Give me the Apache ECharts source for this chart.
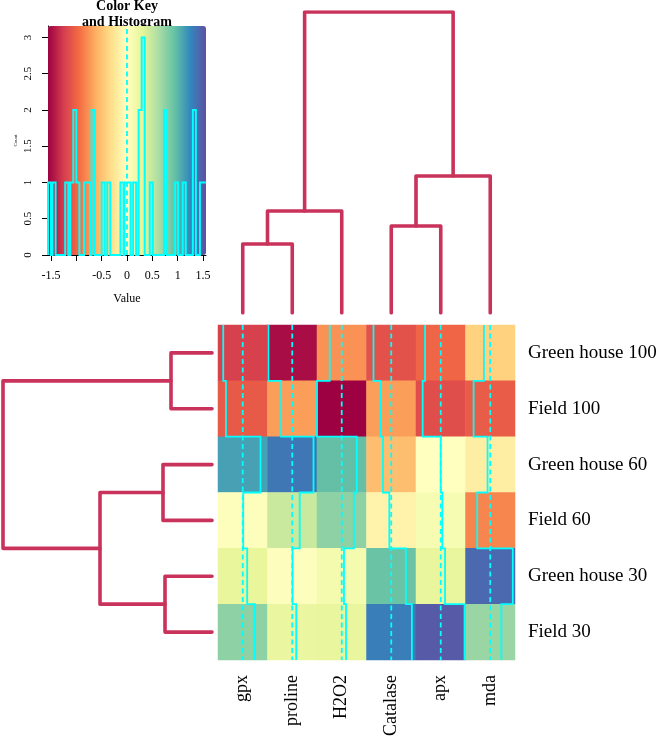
<!DOCTYPE html>
<html><head><meta charset="utf-8">
<script src="https://cdn.jsdelivr.net/npm/echarts@6/dist/echarts.min.js"></script>
<style>html,body{margin:0;padding:0;background:#fff;}#c{width:660px;height:739px;}</style>
</head><body><div id="c"></div>
<script>
// ---------- data ----------
const columns = ['gpx', 'proline', 'H2O2', 'Catalase', 'apx', 'mda'];
const rows = ['Green house 100', 'Field 100', 'Green house 60', 'Field 60', 'Green house 30', 'Field 30'];
const rowGH100 = [-1.23, -1.50, -0.76, -1.12, -0.99, -0.40];
const rowF100  = [-1.06, -0.70, -1.56, -0.70, -1.14, -1.05];
const rowGH60  = [1.12, 1.34, 0.95, -0.52, 0.00, -0.17];
const rowF60   = [0.03, 0.47, 0.76, -0.12, 0.10, -0.82];
const rowGH30  = [0.28, 0.02, 0.14, 0.92, 0.27, 1.42];
const rowF30   = [0.76, 0.25, 0.27, 1.30, 1.50, 0.70];
const values = [rowGH100, rowF100, rowGH60, rowF60, rowGH30, rowF30];

const keyMin = -1.56, keyMax = 1.56;
const keyTicks = [-1.5, -1, -0.5, 0, 0.5, 1, 1.5];
const keyTickLabels = [-1.5, -0.5, 0, 0.5, 1, 1.5];
const countTicks = [0, 0.5, 1, 1.5, 2, 2.5, 3];
const histBinWidth = 0.06;
const histCenters = [-1.53, -1.44, -1.19, -1.09, -1.03, -0.97, -0.82, -0.76, -0.67, -0.47, -0.36, -0.10, -0.02, 0.04, 0.15, 0.26, 0.32, 0.48, 0.76, 0.98, 1.13, 1.33, 1.47, 1.53];
const histCounts  = [1, 1, 1, 1, 2, 1, 1, 1, 2, 1, 1, 1, 1, 1, 1, 2, 3, 1, 2, 1, 1, 2, 1, 1];

// hclust-style merges: negative = leaf (1-based), positive = earlier merge (1-based)
const colMerges = [[-1, -2, 0.69], [1, -3, 1.02], [-4, -5, 0.87], [3, -6, 1.37], [2, 4, 3.01]];
const rowMerges = [[-1, -2, 0.41], [-3, -4, 0.49], [-5, -6, 0.47], [2, 3, 1.12], [1, 4, 2.09]];

const spectral = ['#9E0142', '#D53E4F', '#F46D43', '#FDAE61', '#FEE08B', '#FFFFBF', '#E6F598', '#ABDDA4', '#66C2A5', '#3288BD', '#5E4FA2'];
const dendroColor = '#C9325A';
const traceColor = '#00FFFF';
const serif = 'Liberation Serif';

// ---------- derived ----------
function frac(v) { return (v - keyMin) / (keyMax - keyMin); }

const heatData = [];
values.forEach((row, r) => row.forEach((v, j) => heatData.push([j, r, v])));

const traceLines = columns.map((c, j) => {
  const pts = [];
  values.forEach((row, r) => {
    const x = j + frac(row[j]);
    pts.push([x, r]); pts.push([x, r + 1]);
  });
  return { coords: pts };
});
const vLines = columns.map((c, j) => ({ coords: [[j + frac(0), 0], [j + frac(0), rows.length]] }));

function dendro(merges) {
  const pos = [], hgt = [], segs = [];
  const node = id => id < 0 ? { p: -id - 0.5, h: 0 } : { p: pos[id - 1], h: hgt[id - 1] };
  merges.forEach(([a, b, h], k) => {
    const A = node(a), B = node(b);
    pos[k] = (A.p + B.p) / 2; hgt[k] = h;
    segs.push([[A.p, A.h], [A.p, h], [B.p, h], [B.p, B.h]]);
  });
  return segs;
}
const colSegs = dendro(colMerges).map(s => ({ coords: s }));
const rowSegs = dendro(rowMerges).map(s => ({ coords: s.map(([p, h]) => [h, p]) }));
const colRoot = colMerges[colMerges.length - 1][2];
const rowRoot = rowMerges[rowMerges.length - 1][2];

const histPts = [[keyMin, 0]];
let cur = keyMin, curH = 0;
histCenters.forEach((c, i) => {
  const l = c - histBinWidth / 2, r = c + histBinWidth / 2, n = histCounts[i];
  if (l - cur > 1e-6) { if (curH !== 0) histPts.push([cur, 0]); histPts.push([l, 0]); }
  histPts.push([l, n]); histPts.push([r, n]);
  cur = r; curH = n;
});
if (keyMax - cur > 1e-6) { histPts.push([cur, 0]); histPts.push([keyMax, 0]); }
const countMax = 3 / 0.95;

const hidden = { show: false };
const chart = echarts.init(document.getElementById('c'), null, { renderer: 'canvas' });
chart.setOption({
  animation: false,
  textStyle: { fontFamily: serif },
  graphic: [
    { type: 'text', x: 127, y: 6.5, style: { text: 'Color Key', font: 'bold 14px "Liberation Serif"', fill: '#000', align: 'center', verticalAlign: 'middle', textAlign: 'center', textVerticalAlign: 'middle' } },
    { type: 'text', x: 127, y: 22, style: { text: 'and Histogram', font: 'bold 14px "Liberation Serif"', fill: '#000', align: 'center', verticalAlign: 'middle', textAlign: 'center', textVerticalAlign: 'middle' } }
  ],
  visualMap: {
    type: 'continuous', min: keyMin, max: keyMax, seriesIndex: 0,
    inRange: { color: spectral }, orient: 'horizontal',
    left: 48, top: 26, itemWidth: 229, itemHeight: 158,
    calculable: false, padding: 0, hoverLink: false, z: 1
  },
  grid: [
    { left: 218, top: 325, width: 297, height: 335 },
    { left: 218, top: 325, width: 297, height: 335 },
    { left: 218, top: 12, width: 297, height: 301 },
    { left: 3, top: 325, width: 209, height: 335 },
    { left: 48, top: 26, width: 158, height: 229 }
  ],
  xAxis: [
    { gridIndex: 0, type: 'category', data: columns, position: 'bottom',
      axisLine: hidden, axisTick: hidden, splitLine: hidden,
      axisLabel: { rotate: 90, margin: 15, fontSize: 18, color: '#000', fontFamily: serif, interval: 0 } },
    { gridIndex: 1, type: 'value', min: 0, max: columns.length, show: false },
    { gridIndex: 2, type: 'value', min: 0, max: columns.length, show: false },
    { gridIndex: 3, type: 'value', min: 0, max: rowRoot, inverse: true, show: false },
    { gridIndex: 4, type: 'value', min: keyMin, max: keyMax, splitLine: hidden,
      axisLine: { show: true, onZero: false, lineStyle: { color: '#000', width: 1 } },
      axisTick: { show: true, customValues: keyTicks, length: 6, lineStyle: { color: '#000' } },
      axisLabel: { customValues: keyTickLabels, margin: 15, fontSize: 12, color: '#000', fontFamily: serif },
      name: 'Value', nameLocation: 'middle', nameGap: 38,
      nameTextStyle: { fontSize: 12, color: '#000', fontFamily: serif } }
  ],
  yAxis: [
    { gridIndex: 0, type: 'category', data: rows, inverse: true, position: 'right',
      axisLine: hidden, axisTick: hidden, splitLine: hidden,
      axisLabel: { margin: 13, fontSize: 19, color: '#000', fontFamily: serif, interval: 0 } },
    { gridIndex: 1, type: 'value', min: 0, max: rows.length, inverse: true, show: false },
    { gridIndex: 2, type: 'value', min: 0, max: colRoot, show: false },
    { gridIndex: 3, type: 'value', min: 0, max: rows.length, inverse: true, show: false },
    { gridIndex: 4, type: 'value', min: 0, max: countMax, splitLine: hidden,
      axisLine: { show: true, onZero: false, lineStyle: { color: '#000', width: 1 } },
      axisTick: { show: true, customValues: countTicks, length: 6, lineStyle: { color: '#000' } },
      axisLabel: { customValues: countTicks, rotate: 90, margin: 14, fontSize: 11, color: '#000', fontFamily: serif },
      name: 'Count', nameLocation: 'middle', nameGap: 30, nameRotate: 90,
      nameTextStyle: { fontSize: 5, color: '#000', fontFamily: serif } }
  ],
  series: [
    { type: 'heatmap', xAxisIndex: 0, yAxisIndex: 0, data: heatData,
      itemStyle: { borderWidth: 0 }, emphasis: { disabled: true }, silent: true },
    { type: 'lines', coordinateSystem: 'cartesian2d', xAxisIndex: 1, yAxisIndex: 1, polyline: true,
      data: traceLines, silent: true, z: 5,
      lineStyle: { color: traceColor, width: 1.8, opacity: 1, curveness: 0 } },
    { type: 'lines', coordinateSystem: 'cartesian2d', xAxisIndex: 1, yAxisIndex: 1, polyline: true,
      data: vLines, silent: true, z: 5,
      lineStyle: { color: traceColor, width: 1.8, opacity: 1, type: [5, 3.5], curveness: 0 } },
    { type: 'lines', coordinateSystem: 'cartesian2d', xAxisIndex: 2, yAxisIndex: 2, polyline: true,
      data: colSegs, silent: true,
      lineStyle: { color: dendroColor, width: 3.6, opacity: 1, cap: 'round', join: 'round', curveness: 0 } },
    { type: 'lines', coordinateSystem: 'cartesian2d', xAxisIndex: 3, yAxisIndex: 3, polyline: true,
      data: rowSegs, silent: true,
      lineStyle: { color: dendroColor, width: 3.6, opacity: 1, cap: 'round', join: 'round', curveness: 0 } },
    { type: 'lines', coordinateSystem: 'cartesian2d', xAxisIndex: 4, yAxisIndex: 4, polyline: true,
      data: [{ coords: histPts }], silent: true, z: 10,
      lineStyle: { color: traceColor, width: 2, opacity: 1, curveness: 0 } },
    { type: 'lines', coordinateSystem: 'cartesian2d', xAxisIndex: 4, yAxisIndex: 4, polyline: true,
      data: [{ coords: [[0, 0], [0, countMax]] }], silent: true, z: 10,
      lineStyle: { color: traceColor, width: 1.8, opacity: 1, type: [5, 3.5], curveness: 0 } }
  ]
});
</script>
</body></html>
